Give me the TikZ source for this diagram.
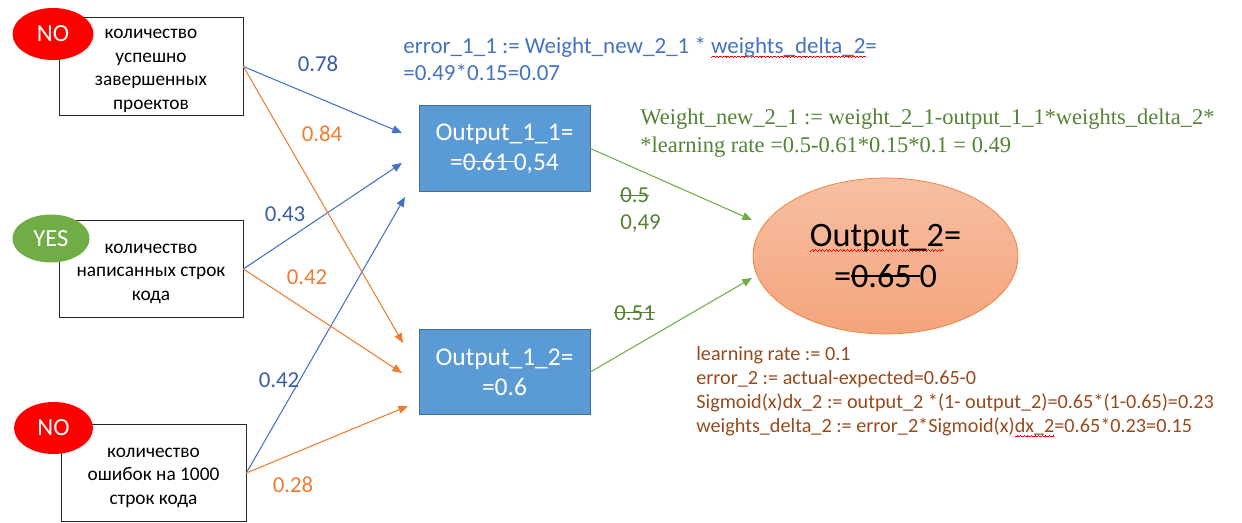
\documentclass[tikz,border=0pt]{standalone}
\usepackage{fontspec}
\setmainfont{Carlito}
\newfontfamily\timesfont{Liberation Serif}
\usetikzlibrary{arrows.meta,shapes.geometric}

\definecolor{boxblue}{HTML}{5B9BD5}
\definecolor{boxedge}{HTML}{41719C}
\definecolor{lineblue}{HTML}{4472C4}
\definecolor{labelblue}{HTML}{3A5DA8}
\definecolor{lineorange}{HTML}{ED7D31}
\definecolor{linegreen}{HTML}{70AD47}
\definecolor{textgreen}{HTML}{548235}
\definecolor{textbrown}{HTML}{974A1C}
\definecolor{nored}{HTML}{FF0000}
\definecolor{salmontop}{HTML}{F7BFA3}
\definecolor{salmonbot}{HTML}{F4A47C}

\newsavebox\markbox
\newcommand\strikeout[1]{\sbox\markbox{#1}\rlap{\rule[0.3em]{\wd\markbox}{0.06em}}\usebox\markbox}
\newcommand\waveunit{\hbox{\rule[-2.6pt]{0.5pt}{0.4pt}\rule[-2.2pt]{0.5pt}{0.4pt}\rule[-1.8pt]{0.5pt}{0.4pt}\rule[-2.2pt]{0.5pt}{0.4pt}}}
\newcommand\redwave[1]{\sbox\markbox{#1}\rlap{\hbox to \wd\markbox{\color{red}\xleaders\waveunit\hfill}}\usebox\markbox}

\begin{document}
\begin{tikzpicture}
  [x=0.02cm,y=-0.02cm,>={Triangle[length=5.5pt,width=4.5pt]},
   inbox/.style={draw=black!85,fill=white,inner sep=0pt,minimum width=3.68cm,minimum height=1.95cm},
   boxtext/.style={align=center,inner sep=0pt,font=\fontsize{11}{13.4}\selectfont},
   answer/.style={ellipse,text=white,inner sep=0pt,font=\fontsize{14}{16}\selectfont},
   hidden/.style={draw=boxedge,fill=boxblue,text=white,align=center,inner sep=0pt,minimum width=3.42cm,minimum height=1.71cm,font=\fontsize{14.5}{17}\selectfont},
   weight/.style={inner sep=0pt,font=\fontsize{13}{15}\selectfont},
   note/.style={anchor=west,align=left,inner sep=0pt}]
  \useasboundingbox (0,0) rectangle (1242,523);

  \node[inbox] (b1) at (151,66.5) {};
  \node[inbox] (b2) at (151,269) {};
  \node[inbox,minimum width=3.7cm] (b3) at (153.5,473) {};
  \node[boxtext] (t1) at (151,71) {количество\\успешно\\завершенных\\проектов};
  \node[boxtext] (t2) at (151,273.5) {количество\\написанных строк\\кода};
  \node[boxtext] (t3) at (153.5,477.5) {количество\\ошибок на 1000\\строк кода};

  \node[answer,fill=nored,minimum width=1.62cm,minimum height=1.04cm] (no1) at (53,34) {NO};
  \node[answer,fill=linegreen,minimum width=1.54cm,minimum height=0.96cm] (yes2) at (51,238.5) {YES};
  \node[answer,fill=nored,minimum width=1.58cm,minimum height=1.04cm] (no3) at (53.5,428) {NO};

  \node[hidden] (o11) at (504.5,148.5) {Output\_1\_1=\\=\strikeout{0.61 }0,54};
  \node[hidden] (o12) at (504.5,372) {Output\_1\_2=\\=0.6};

  \node[ellipse,draw=lineorange,top color=salmontop,bottom color=salmonbot,align=center,inner sep=0pt,minimum width=5.3cm,minimum height=3.12cm,font=\fontsize{19.5}{23}\selectfont] (o2) at (885.5,256) {\redwave{Output\_2}=\\=\strikeout{0.65 }0};

  \coordinate (a11) at (402,133);
  \coordinate (a21) at (402,163);
  \coordinate (a31) at (405,197);
  \coordinate (a12) at (403,343);
  \coordinate (a22) at (402,373);
  \coordinate (a32) at (408,406);
  \coordinate (g1) at (752,220);
  \coordinate (g2) at (752,278);

  \draw[->,line width=0.6pt,lineblue] (b1.east) -- (a11);
  \draw[->,line width=0.6pt,lineblue] (b2.east) -- (a21);
  \draw[->,line width=0.6pt,lineblue] (b3.east) -- (a31);
  \draw[->,line width=0.6pt,lineorange] (b1.east) -- (a12);
  \draw[->,line width=0.6pt,lineorange] (b2.east) -- (a22);
  \draw[->,line width=0.6pt,lineorange] (b3.east) -- (a32);
  \draw[->,line width=0.6pt,linegreen] (o11.east) -- (g1);
  \draw[->,line width=0.6pt,linegreen] (o12.east) -- (g2);

  \node[weight,text=labelblue] (w11) at (318,64) {0.78};
  \node[weight,text=lineorange] (w12) at (322,134) {0.84};
  \node[weight,text=labelblue] (w21) at (285,214) {0.43};
  \node[weight,text=lineorange] (w22) at (307,277) {0.42};
  \node[weight,text=labelblue] (w31) at (279,380) {0.42};
  \node[weight,text=lineorange] (w32) at (293,485) {0.28};
  \node[weight,text=textgreen,anchor=west,align=left] (v1) at (620,210) {\strikeout{0.5}\\0,49};
  \node[weight,text=textgreen,anchor=west] (v2) at (614,313) {\strikeout{0.51}};

  \node[note,text=lineblue,font=\fontsize{13.1}{15.3}\selectfont] (err) at (403,58.5)
    {error\_1\_1 := Weight\_new\_2\_1 * \redwave{weights\_delta\_2}=\\=0.49*0.15=0.07};
  \node[note,text=textgreen,font=\timesfont\fontsize{12.8}{16}\selectfont] (upd) at (640,133)
    {Weight\_new\_2\_1 := weight\_2\_1-output\_1\_1*weights\_delta\_2*\\*learning rate =0.5-0.61*0.15*0.1 = 0.49};
  \node[note,text=textbrown,font=\fontsize{11.5}{13.6}\selectfont] (calc) at (696,392)
    {learning rate := 0.1\\error\_2 := actual-expected=0.65-0\\Sigmoid(x)dx\_2 := output\_2 *(1- output\_2)=0.65*(1-0.65)=0.23\\weights\_delta\_2 := error\_2*Sigmoid(x)\redwave{dx\_2}=0.65*0.23=0.15};
\end{tikzpicture}
\end{document}
